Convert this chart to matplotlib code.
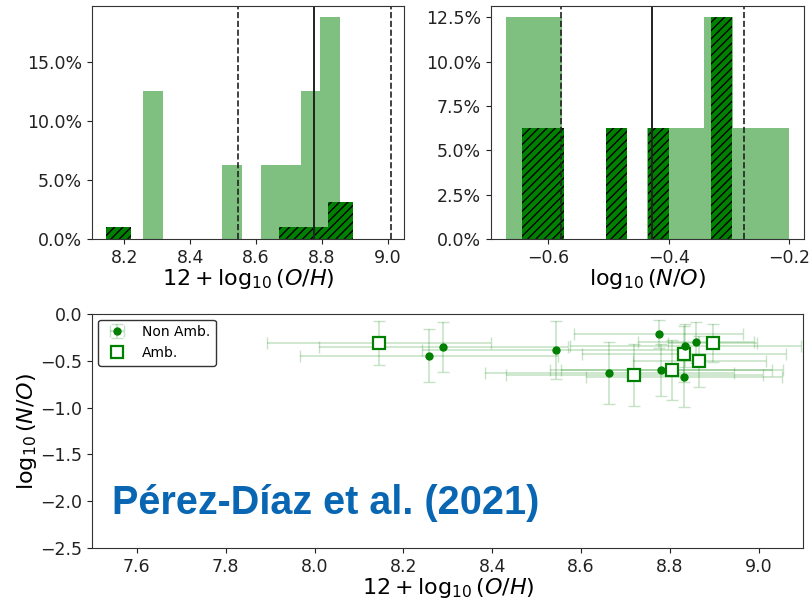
import numpy as np
import matplotlib
matplotlib.use("Agg")
import matplotlib.pyplot as plt
from matplotlib.ticker import PercentFormatter, MultipleLocator

# ---------------- data ----------------
# top-left histogram: 12+log(O/H)
oh_light_edges = np.linspace(8.258, 8.856, 11)
oh_light_heights = [0.125, 0, 0, 0, 0.0625, 0, 0.0625, 0.0625, 0.125, 0.1875]
oh_hatch_edges = np.linspace(8.144, 8.894, 11)
oh_hatch_heights = [0.0104, 0, 0, 0, 0, 0, 0, 0.0104, 0.0104, 0.03125]
oh_median = 8.778
oh_bounds = [8.546, 9.010]

# top-right histogram: log(N/O)
no_light_edges = np.linspace(-0.6707, -0.200, 11)
no_light_heights = [0.125, 0.125, 0, 0, 0, 0.0625, 0.0625, 0.125, 0.0625, 0.0625]
no_hatch_edges = np.linspace(-0.6442, -0.2956, 11)
no_hatch_heights = [0.0625, 0.0625, 0, 0, 0.0625, 0, 0.0625, 0, 0, 0.125]
no_median = -0.4274
no_bounds = [-0.5794, -0.2752]

# bottom scatter: non-ambiguous
na_oh = [8.257, 8.290, 8.543, 8.775, 8.834, 8.858, 8.663, 8.779, 8.832]
na_no = [-0.445, -0.350, -0.385, -0.210, -0.338, -0.300, -0.627, -0.600, -0.676]
na_oh_err = [0.29, 0.28, 0.30, 0.19, 0.26, 0.13, 0.28, 0.25, 0.22]
na_no_err = [0.28, 0.265, 0.31, 0.15, 0.23, 0.22, 0.33, 0.28, 0.32]
# ambiguous
am_oh = [8.145, 8.720, 8.805, 8.831, 8.866, 8.896]
am_no = [-0.307, -0.655, -0.595, -0.430, -0.505, -0.310]
am_oh_err = [0.253, 0.29, 0.25, 0.23, 0.15, 0.10]
am_no_err = [0.235, 0.33, 0.32, 0.30, 0.27, 0.20]

citation = "Pérez-Díaz et al. (2021)"

# ---------------- figure ----------------
plt.rcParams['font.family'] = ['DejaVu Sans']
plt.rcParams['hatch.linewidth'] = 1.0
fig = plt.figure(figsize=(8.12, 6.03), dpi=100)

ax1 = fig.add_axes([0.1129, 0.6036, 0.3846, 0.3864])
ax2 = fig.add_axes([0.6043, 0.6036, 0.3862, 0.3864])
ax3 = fig.add_axes([0.1137, 0.0912, 0.8756, 0.3880])

light = dict(color='green', alpha=0.5, linewidth=0, align='edge')
hatch = dict(facecolor='green', edgecolor='black', hatch='////', linewidth=0, align='edge')

def hist_panel(ax, le, lh, he, hh, med, bnds):
    ax.bar(le[:-1], lh, width=np.diff(le), **light)
    ax.bar(he[:-1], hh, width=np.diff(he), **hatch)
    ax.axvline(med, color='#222222', lw=1.4)
    for b in bnds:
        ax.axvline(b, color='#222222', lw=1.2, ls='--')
    ax.yaxis.set_major_formatter(PercentFormatter(1, decimals=1))
    ax.tick_params(labelsize=12.5, colors='#222222')
    for s in ax.spines.values():
        s.set_color('#333333')

hist_panel(ax1, oh_light_edges, oh_light_heights, oh_hatch_edges, oh_hatch_heights, oh_median, oh_bounds)
ax1.set_xlim(8.101, 9.05)
ax1.set_ylim(0, 0.1969)
ax1.yaxis.set_major_locator(MultipleLocator(0.05))
ax1.xaxis.set_major_locator(MultipleLocator(0.2))
ax1.set_xlabel(r'$12 + \log_{10}(O/H)$', fontsize=16, labelpad=0)

hist_panel(ax2, no_light_edges, no_light_heights, no_hatch_edges, no_hatch_heights, no_median, no_bounds)
ax2.set_xlim(-0.6956, -0.175)
ax2.set_ylim(0, 0.13125)
ax2.yaxis.set_major_locator(MultipleLocator(0.025))
ax2.xaxis.set_major_locator(MultipleLocator(0.2))
ax2.set_xlabel(r'$\log_{10}(N/O)$', fontsize=16, labelpad=0)

# bottom scatter
h_na = ax3.errorbar(na_oh, na_no, xerr=na_oh_err, yerr=na_no_err, fmt='o', color='green',
                    ms=5, ecolor=(0.0, 0.5, 0.0, 0.22), elinewidth=1.2, capsize=4,
                    label='Non Amb.')
ax3.errorbar(am_oh, am_no, xerr=am_oh_err, yerr=am_no_err, fmt='none',
             ecolor=(0.0, 0.5, 0.0, 0.22), elinewidth=1.2, capsize=4)
h_am, = ax3.plot(am_oh, am_no, 's', ms=9, mfc='white', mec='green', mew=1.6, ls='none',
                 label='Amb.')
ax3.set_xlim(7.5, 9.1)
ax3.set_ylim(-2.5, 0.0)
ax3.xaxis.set_major_locator(MultipleLocator(0.2))
ax3.yaxis.set_major_locator(MultipleLocator(0.5))
ax3.tick_params(labelsize=12.5, colors='#222222')
for s in ax3.spines.values():
    s.set_color('#333333')
ax3.set_xlabel(r'$12 + \log_{10}(O/H)$', fontsize=16, labelpad=0)
ax3.set_ylabel(r'$\log_{10}(N/O)$', fontsize=16, labelpad=1)
leg = ax3.legend([h_na, h_am], ['Non Amb.', 'Amb.'], loc='upper left', fontsize=10,
                 frameon=True, edgecolor='#333333', fancybox=True, framealpha=1,
                 borderaxespad=0.4)

ax3.text(0.027, 0.145, citation, transform=ax3.transAxes, fontsize=28.5,
         fontweight='bold', color='#0866b3', family=['Liberation Sans', 'DejaVu Sans'])

fig.savefig('out.png', dpi=100)
